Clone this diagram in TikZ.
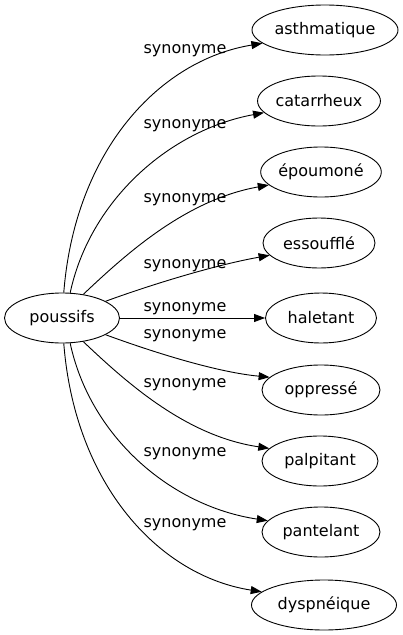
\documentclass[tikz,border=0pt]{standalone}
\usepackage{fontspec}
\setmainfont{DejaVu Sans}
\usetikzlibrary{arrows.meta,shapes.geometric}
\begin{document}
\begin{tikzpicture}[x=1pt,y=-1pt,
  word/.style={draw,ellipse,inner sep=0pt,line width=0.9pt,minimum height=50pt,font=\fontsize{16}{19}\selectfont},
  lab/.style={font=\fontsize{16}{19}\selectfont,inner sep=0pt},
  syn/.style={draw,line width=0.9pt,-{Triangle[length=11pt,width=8pt]}}]
\useasboundingbox (0,0) rectangle (403,635);
\node[word,minimum width=115pt] (p) at (62,318) {poussifs};
\node[word,minimum width=146pt] (a1) at (325,30) {asthmatique};
\node[word,minimum width=122pt] (a2) at (319,101) {catarrheux};
\node[word,minimum width=114pt] (a3) at (321,172) {époumoné};
\node[word,minimum width=112pt] (a4) at (319,243) {essoufflé};
\node[word,minimum width=111pt] (a5) at (321,318) {haletant};
\node[word,minimum width=118pt] (a6) at (321,390) {oppressé};
\node[word,minimum width=116pt] (a7) at (320,461) {palpitant};
\node[word,minimum width=118pt] (a8) at (321,532) {pantelant};
\node[word,minimum width=145pt] (a9) at (324,605) {dyspnéique};
\node[lab] (l1) at (185,50.5) {synonyme};
\node[lab] (l2) at (185,125.5) {synonyme};
\node[lab] (l3) at (185,199.5) {synonyme};
\node[lab] (l4) at (185,265.5) {synonyme};
\node[lab] (l5) at (185,309) {synonyme};
\node[lab] (l6) at (185,335.5) {synonyme};
\node[lab] (l7) at (185,384.5) {synonyme};
\node[lab] (l8) at (185,453.5) {synonyme};
\node[lab] (l9) at (185,524.5) {synonyme};
\draw[syn] (p.86) .. controls (75,150) and (160,60) .. (a1.192);
\draw[syn] (p.72) .. controls (90,200) and (170,130) .. (a2.192);
\draw[syn] (p.48) .. controls (125,255) and (185,200) .. (a3.194);
\draw[syn] (p.21) .. controls (150,285) and (215,265) .. (a4.194);
\draw[syn] (p) -- (a5);
\draw[syn] (p.-21) .. controls (150,351) and (215,372) .. (a6.166);
\draw[syn] (p.-48) .. controls (125,381) and (185,436) .. (a7.166);
\draw[syn] (p.-72) .. controls (90,436) and (170,506) .. (a8.168);
\draw[syn] (p.-86) .. controls (75,486) and (160,576) .. (a9.168);
\end{tikzpicture}
\end{document}
